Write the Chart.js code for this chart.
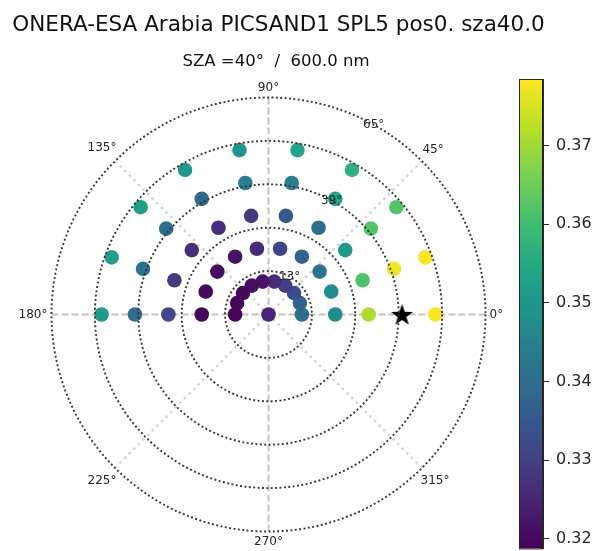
<!DOCTYPE html>
<html>
<head>
<meta charset="utf-8">
<script src="https://cdn.jsdelivr.net/npm/chart.js@4.4.1/dist/chart.umd.min.js"></script>
<style>
    html, body { margin: 0; padding: 0; background: #ffffff; overflow: hidden; }
    #wrap { position: relative; width: 595px; height: 551px; }
    #polar-chart { position: absolute; left: 0; top: 0; }
    #cbar-chart { position: absolute; left: 500px; top: 0; }
</style>
</head>
<body>
<div id="wrap">
    <canvas id="polar-chart" width="595" height="551"></canvas>
    <canvas id="cbar-chart" width="95" height="565"></canvas>
</div>
<script>
// Titles
const mainTitle = 'ONERA-ESA Arabia PICSAND1 SPL5 pos0. sza40.0';
const subTitle = 'SZA =40°  /  600.0 nm';

// Relative azimuth of each column of measurements (deg)
const azimuthDeg = [0, 20, 40, 60, 80, 100, 120, 140, 160, 180];

// Reflectance per view zenith ring, same order as azimuthDeg (null = no point)
const nadirValue = 0.325;
const vza10 = [0.3405, 0.338, 0.333, 0.3297, 0.326, 0.322, 0.321, 0.3202, 0.3197, 0.3195];
const vza20 = [0.3475, 0.3475, 0.341, 0.3375, 0.331, 0.326, 0.322, 0.321, 0.3203, 0.3198];
const vza30 = [0.371, 0.3615, 0.351, 0.3405, 0.335, 0.3288, 0.3263, 0.327, 0.3288, 0.3317];
const vza40 = [null, 0.377, 0.362, 0.3535, 0.344, 0.344, 0.339, 0.3405, 0.341, 0.3405];
const vza50 = [0.378, 0.378, 0.362, 0.3565, 0.353, 0.3495, 0.3505, 0.352, 0.352, 0.351];
const ringZenith = [10, 20, 30, 40, 50];
const ringValues = [vza10, vza20, vza30, vza40, vza50];

// Sun position (star)
const sunZenith = 40;
const sunAzimuth = 0;

// Polar grid
const radialTicks = [13, 26, 39, 52, 65];
const radialLabels = ['13°', '', '39°', '', '65°'];
const radialLabelAngle = 61;
const thetaTicks = [0, 45, 90, 135, 180, 225, 270, 315];
const thetaLabels = ['0°', '45°', '90°', '135°', '180°', '225°', '270°', '315°'];
const rMax = 65;

// Colour bar
const vmin = 0.3188;
const vmax = 0.37846;
const cbarTicks = [0.32, 0.33, 0.34, 0.35, 0.36, 0.37];

const fontFamily = '"DejaVu Sans", "Liberation Sans", sans-serif';
const textColor = '#262626';

// viridis colormap stops
const viridis = ['#440154', '#482475', '#414487', '#355f8d', '#2a788e', '#21918c',
                 '#22a884', '#44bf70', '#7ad151', '#bddf26', '#fde725'];

function hexToRgb(hex) {
    const n = parseInt(hex.slice(1), 16);
    return [(n >> 16) & 255, (n >> 8) & 255, n & 255];
}

function viridisColor(value) {
    let t = (value - vmin) / (vmax - vmin);
    t = Math.max(0, Math.min(1, t));
    const pos = t * (viridis.length - 1);
    const i = Math.min(Math.floor(pos), viridis.length - 2);
    const f = pos - i;
    const a = hexToRgb(viridis[i]);
    const b = hexToRgb(viridis[i + 1]);
    const c = a.map((v, k) => Math.round(v + (b[k] - v) * f));
    return `rgb(${c[0]}, ${c[1]}, ${c[2]})`;
}

function toXY(zenith, azimuth, value) {
    const a = azimuth * Math.PI / 180;
    return { x: zenith * Math.cos(a), y: zenith * Math.sin(a), v: value };
}

// Build the scatter points from the rings
const points = [toXY(0, 0, nadirValue)];
ringZenith.forEach((zen, r) => {
    azimuthDeg.forEach((az, i) => {
        const v = ringValues[r][i];
        if (v !== null) points.push(toXY(zen, az, v));
    });
});

// Filled star marker
function makeStar(size) {
    const c = document.createElement('canvas');
    c.width = size;
    c.height = size;
    const g = c.getContext('2d');
    const cx = size / 2, cy = size / 2 + 1;
    const outer = size / 2 - 1, inner = outer * 0.4;
    g.beginPath();
    for (let k = 0; k < 10; k++) {
        const rad = k % 2 === 0 ? outer : inner;
        const ang = -Math.PI / 2 + k * Math.PI / 5;
        const px = cx + rad * Math.cos(ang);
        const py = cy + rad * Math.sin(ang);
        if (k === 0) g.moveTo(px, py); else g.lineTo(px, py);
    }
    g.closePath();
    g.fillStyle = '#000000';
    g.fill();
    return c;
}

// Polar grid underneath the points
const polarGridPlugin = {
    id: 'polarGrid',
    beforeDatasetsDraw(chart) {
        const ctx = chart.ctx;
        const xs = chart.scales.x, ys = chart.scales.y;
        const cx = xs.getPixelForValue(0), cy = ys.getPixelForValue(0);
        ctx.save();
        thetaTicks.forEach(deg => {
            const a = deg * Math.PI / 180;
            const ex = xs.getPixelForValue(rMax * Math.cos(a));
            const ey = ys.getPixelForValue(rMax * Math.sin(a));
            ctx.beginPath();
            if (deg % 90 === 0) {
                ctx.strokeStyle = '#c4c4c4';
                ctx.lineWidth = 2;
                ctx.setLineDash([7, 3]);
            } else {
                ctx.strokeStyle = '#d4d4d4';
                ctx.lineWidth = 2.5;
                ctx.setLineDash([2.5, 4]);
            }
            ctx.moveTo(cx, cy);
            ctx.lineTo(ex, ey);
            ctx.stroke();
        });
        ctx.restore();
    },
    afterDatasetsDraw(chart) {
        const ctx = chart.ctx;
        const xs = chart.scales.x, ys = chart.scales.y;
        const cx = xs.getPixelForValue(0), cy = ys.getPixelForValue(0);
        ctx.save();
        // dotted rings
        ctx.strokeStyle = '#333333';
        ctx.lineWidth = 1.9;
        ctx.setLineDash([1.9, 2.5]);
        radialTicks.forEach(r => {
            const rp = xs.getPixelForValue(r) - cx;
            ctx.beginPath();
            ctx.arc(cx, cy, rp, 0, Math.PI * 2);
            ctx.stroke();
        });
        ctx.setLineDash([]);

        ctx.fillStyle = textColor;
        ctx.font = '12px ' + fontFamily;
        ctx.textAlign = 'center';
        ctx.textBaseline = 'middle';

        // ring labels
        const la = radialLabelAngle * Math.PI / 180;
        radialTicks.forEach((r, i) => {
            if (!radialLabels[i]) return;
            ctx.fillText(radialLabels[i],
                xs.getPixelForValue(r * Math.cos(la)),
                ys.getPixelForValue(r * Math.sin(la)));
        });

        // angle labels
        const rOuter = xs.getPixelForValue(rMax) - cx;
        thetaTicks.forEach((deg, i) => {
            const a = deg * Math.PI / 180;
            const w = ctx.measureText(thetaLabels[i]).width / 2;
            const h = 6;
            const co = Math.cos(a), si = Math.sin(a);
            const d = rOuter + 4 + w * Math.abs(co) + h * Math.abs(si);
            ctx.fillText(thetaLabels[i], cx + d * co, cy - d * si);
        });

        // titles
        ctx.fillStyle = '#111111';
        ctx.font = '21.5px ' + fontFamily;
        ctx.fillText(mainTitle, 278.5, 25);
        ctx.font = '16.5px ' + fontFamily;
        ctx.fillText(subTitle, 276, 62);
        ctx.restore();
    }
};

const polarChart = new Chart(document.getElementById('polar-chart').getContext('2d'), {
    type: 'scatter',
    data: {
        datasets: [
            {
                label: 'Reflectance',
                data: points,
                pointRadius: 7.3,
                pointHoverRadius: 7.3,
                borderWidth: 0,
                backgroundColor: ctx => viridisColor(ctx.raw ? ctx.raw.v : vmin)
            },
            {
                label: 'Sun',
                data: [toXY(sunZenith, sunAzimuth, null)],
                pointStyle: makeStar(25),
                pointRadius: 12
            }
        ]
    },
    options: {
        responsive: false,
        animation: false,
        layout: {
            padding: { left: 51.5, right: 109.5, top: 97.5, bottom: 19.5 }
        },
        plugins: {
            legend: { display: false },
            tooltip: { enabled: false }
        },
        scales: {
            x: { type: 'linear', min: -rMax, max: rMax, display: false },
            y: { type: 'linear', min: -rMax, max: rMax, display: false }
        }
    },
    plugins: [polarGridPlugin]
});

// Colour bar gradient and outline
const colorBarPlugin = {
    id: 'colorBar',
    beforeDatasetsDraw(chart) {
        const { ctx, chartArea } = chart;
        const grad = ctx.createLinearGradient(0, chartArea.bottom, 0, chartArea.top);
        viridis.forEach((c, i) => grad.addColorStop(i / (viridis.length - 1), c));
        ctx.save();
        ctx.fillStyle = grad;
        ctx.fillRect(chartArea.left, chartArea.top,
            chartArea.right - chartArea.left, chartArea.bottom - chartArea.top);
        ctx.strokeStyle = textColor;
        ctx.lineWidth = 1;
        ctx.strokeRect(chartArea.left + 0.5, chartArea.top + 0.5,
            chartArea.right - chartArea.left - 1, chartArea.bottom - chartArea.top);
        ctx.restore();
    }
};

const cbarChart = new Chart(document.getElementById('cbar-chart').getContext('2d'), {
    type: 'scatter',
    data: { datasets: [] },
    options: {
        responsive: false,
        animation: false,
        layout: {
            padding: { left: 19, right: 0, top: 79, bottom: 13.5 }
        },
        plugins: {
            legend: { display: false },
            tooltip: { enabled: false }
        },
        scales: {
            x: { display: false, min: 0, max: 1 },
            y: {
                position: 'right',
                min: vmin,
                max: vmax,
                afterBuildTicks: axis => {
                    axis.ticks = cbarTicks.map(v => ({ value: v }));
                },
                afterFit: axis => {
                    axis.width = 52;
                },
                ticks: {
                    color: textColor,
                    padding: 7,
                    font: { size: 16, family: fontFamily },
                    callback: value => value.toFixed(2)
                },
                grid: {
                    drawOnChartArea: false,
                    drawTicks: true,
                    tickLength: 6,
                    color: textColor,
                    lineWidth: 1
                },
                border: { display: true, color: textColor }
            }
        }
    },
    plugins: [colorBarPlugin]
});
</script>
</body>
</html>
